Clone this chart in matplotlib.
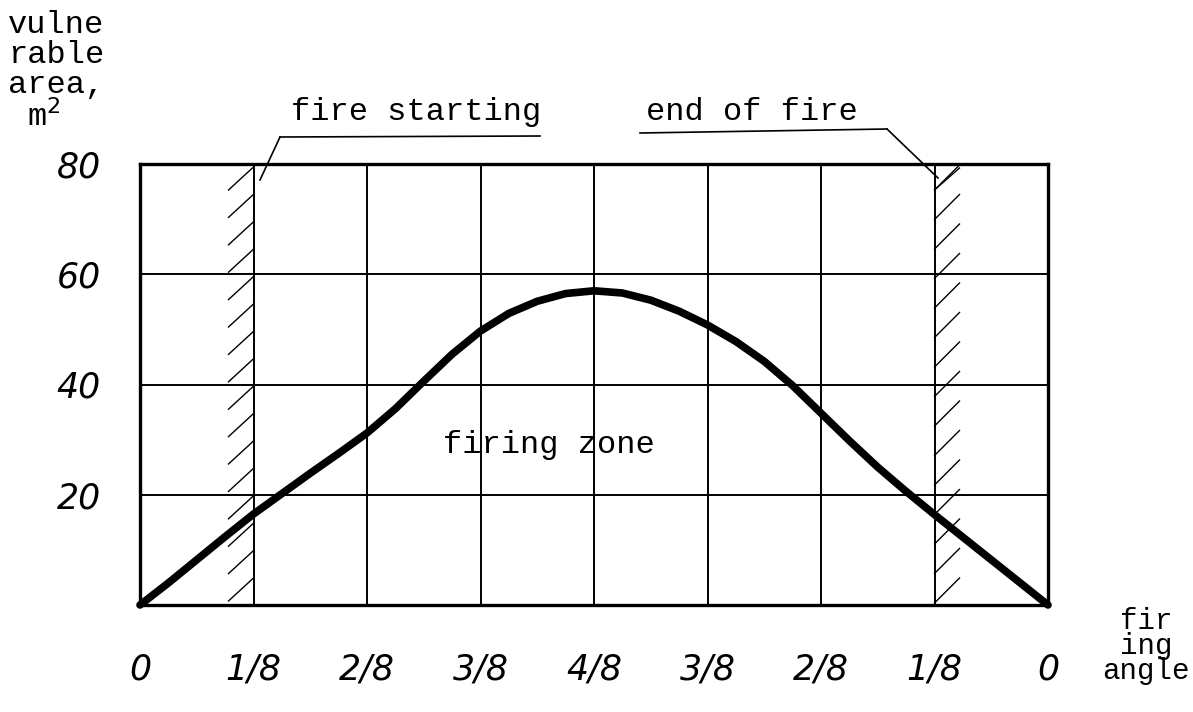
import numpy as np
import matplotlib
matplotlib.use("Agg")
import matplotlib.pyplot as plt

# readings: firing angle (in eighths) vs vulnerable area, m2
angle = [0, 0.25, 0.5, 0.75, 1, 1.25, 1.5, 1.75, 2, 2.25, 2.5, 2.75, 3, 3.25, 3.5, 3.75,
         4, 4.25, 4.5, 4.75, 5, 5.25, 5.5, 5.75, 6, 6.25, 6.5, 6.75, 7, 7.25, 7.5, 7.75, 8]
area = [0, 4, 8.2, 12.4, 16.5, 20.2, 23.9, 27.5, 31.2, 35.6, 40.6, 45.5, 49.7, 52.9, 55.1, 56.5,
        57, 56.6, 55.3, 53.3, 50.8, 47.8, 44.2, 39.8, 34.8, 29.8, 25, 20.6, 16.4, 12.3, 8.2, 4.1, 0]

x_ticks = [0, 1, 2, 3, 4, 5, 6, 7, 8]
x_labels = ["0", "1/8", "2/8", "3/8", "4/8", "3/8", "2/8", "1/8", "0"]
y_ticks = [20, 40, 60, 80]
y_labels = ["20", "40", "60", "80"]
fire_start = 1
fire_end = 7

mono = "Liberation Mono"

fig = plt.figure(figsize=(11.93, 7.12), dpi=100)
ax = fig.add_axes([140 / 1193, 1 - 605 / 712, 908 / 1193, 441 / 712])
ax.set_xlim(0, 8)
ax.set_ylim(0, 80)

for s in ax.spines.values():
    s.set_linewidth(2.4)
    s.set_color("black")

# grid
for xv in x_ticks[1:-1]:
    ax.axvline(xv, color="black", lw=1.4, zorder=1)
for yv in y_ticks[:-1]:
    ax.axhline(yv, color="black", lw=1.4, zorder=1)

# hatching on the fire lines
xpx = 8 / 908
ypx = 80 / 441
for yt in np.arange(167, 590, 27.4):
    ytop = (605 - yt) * ypx
    ax.plot([fire_start - 25 * xpx, fire_start], [ytop - 23 * ypx, ytop],
            color="black", lw=1.0, zorder=1)
for yb in np.arange(190, 610, 29.5):
    ybot = (605 - yb) * ypx
    ax.plot([fire_end, fire_end + 25 * xpx], [ybot, ybot + 25 * ypx],
            color="black", lw=1.0, zorder=1, clip_on=False)
ax.plot([fire_end, fire_end + 25 * xpx], [(605 - 168) * ypx - 22 * ypx, (605 - 168) * ypx],
        color="black", lw=1.0, zorder=1)

# curve
ax.plot(angle, area, color="black", lw=5.5, solid_capstyle="round",
        solid_joinstyle="round", zorder=3, clip_on=False)

ax.set_xticks(x_ticks)
ax.set_xticklabels(x_labels, fontsize=25, fontstyle="italic")
ax.set_yticks(y_ticks)
ax.set_yticklabels(y_labels, fontsize=25, fontstyle="italic")
ax.tick_params(length=0)
ax.tick_params(axis="x", pad=34)
ax.tick_params(axis="y", pad=28)

ax.text(3.6, 29, "firing zone", family=mono, fontsize=23, ha="center", va="center")

# leaders
def to_fig(px, py):
    return px / 1193, 1 - py / 712

fig.text(*to_fig(416, 112), "fire starting", family=mono, fontsize=23, ha="center", va="center")
fig.text(*to_fig(752, 112), "end of fire", family=mono, fontsize=23, ha="center", va="center")
fig.add_artist(plt.Line2D([280 / 1193, 540 / 1193], [1 - 137 / 712, 1 - 136 / 712],
                          color="black", lw=1.2))
fig.add_artist(plt.Line2D([280 / 1193, 260 / 1193], [1 - 137 / 712, 1 - 180 / 712],
                          color="black", lw=1.2))
fig.add_artist(plt.Line2D([640 / 1193, 887 / 1193], [1 - 133 / 712, 1 - 129 / 712],
                          color="black", lw=1.2))
fig.add_artist(plt.Line2D([887 / 1193, 938 / 1193], [1 - 129 / 712, 1 - 178 / 712],
                          color="black", lw=1.2))

fig.text(*to_fig(8, 10), "vulne\nrable\narea,\n m$^2$", family=mono, fontsize=23,
         ha="left", va="top", linespacing=1.0)
fig.text(*to_fig(1190, 646), "fir\ning\nangle", family=mono, fontsize=21,
         ha="right", va="center", multialignment="center", linespacing=0.85)

fig.savefig("out.png", dpi=100)
